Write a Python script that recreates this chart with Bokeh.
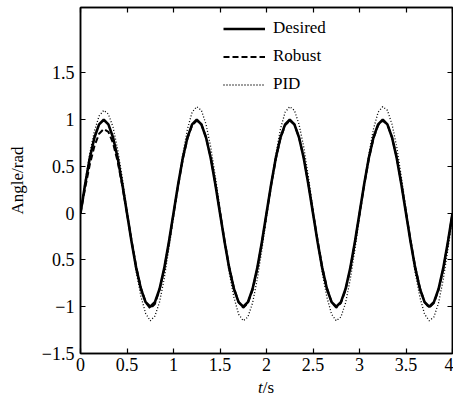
from bokeh.plotting import figure
from bokeh.models import Range1d, LinearAxis, FixedTicker, Legend, LegendItem, Div
from bokeh.layouts import column
from bokeh.embed import file_html
from bokeh.resources import INLINE

t = [0.00, 0.05, 0.10, 0.15, 0.20, 0.25, 0.30, 0.35, 0.40, 0.45,
     0.50, 0.55, 0.60, 0.65, 0.70, 0.75, 0.80, 0.85, 0.90, 0.95,
     1.00, 1.05, 1.10, 1.15, 1.20, 1.25, 1.30, 1.35, 1.40, 1.45,
     1.50, 1.55, 1.60, 1.65, 1.70, 1.75, 1.80, 1.85, 1.90, 1.95,
     2.00, 2.05, 2.10, 2.15, 2.20, 2.25, 2.30, 2.35, 2.40, 2.45,
     2.50, 2.55, 2.60, 2.65, 2.70, 2.75, 2.80, 2.85, 2.90, 2.95,
     3.00, 3.05, 3.10, 3.15, 3.20, 3.25, 3.30, 3.35, 3.40, 3.45,
     3.50, 3.55, 3.60, 3.65, 3.70, 3.75, 3.80, 3.85, 3.90, 3.95,
     4.00]

desired = [0.00, 0.31, 0.59, 0.81, 0.95, 1.00, 0.95, 0.81, 0.59, 0.31,
           0.00, -0.31, -0.59, -0.81, -0.95, -1.00, -0.95, -0.81, -0.59, -0.31,
           0.00, 0.31, 0.59, 0.81, 0.95, 1.00, 0.95, 0.81, 0.59, 0.31,
           0.00, -0.31, -0.59, -0.81, -0.95, -1.00, -0.95, -0.81, -0.59, -0.31,
           0.00, 0.31, 0.59, 0.81, 0.95, 1.00, 0.95, 0.81, 0.59, 0.31,
           0.00, -0.31, -0.59, -0.81, -0.95, -1.00, -0.95, -0.81, -0.59, -0.31,
           0.00, 0.31, 0.59, 0.81, 0.95, 1.00, 0.95, 0.81, 0.59, 0.31,
           0.00, -0.31, -0.59, -0.81, -0.95, -1.00, -0.95, -0.81, -0.59, -0.31,
           0.00]

robust = [0.00, 0.27, 0.52, 0.72, 0.85, 0.90, 0.87, 0.75, 0.55, 0.29,
          0.00, -0.30, -0.58, -0.80, -0.95, -1.02, -0.97, -0.82, -0.60, -0.32,
          -0.01, 0.30, 0.58, 0.80, 0.94, 0.99, 0.95, 0.81, 0.60, 0.32,
          0.01, -0.30, -0.58, -0.80, -0.95, -1.01, -0.96, -0.82, -0.60, -0.32,
          -0.01, 0.30, 0.58, 0.80, 0.94, 0.99, 0.95, 0.81, 0.60, 0.32,
          0.01, -0.30, -0.58, -0.80, -0.95, -1.01, -0.96, -0.82, -0.60, -0.32,
          -0.01, 0.30, 0.58, 0.80, 0.94, 0.99, 0.95, 0.81, 0.60, 0.32,
          0.01, -0.30, -0.58, -0.80, -0.95, -1.01, -0.96, -0.82, -0.60, -0.32,
          0.00]

pid = [0.00, 0.34, 0.64, 0.88, 1.04, 1.10, 1.06, 0.92, 0.68, 0.37,
       0.03, -0.31, -0.63, -0.89, -1.07, -1.15, -1.10, -0.95, -0.70, -0.38,
       -0.04, 0.31, 0.63, 0.90, 1.08, 1.14, 1.10, 0.95, 0.71, 0.39,
       0.04, -0.31, -0.64, -0.90, -1.08, -1.15, -1.11, -0.96, -0.71, -0.39,
       -0.04, 0.31, 0.63, 0.90, 1.08, 1.14, 1.10, 0.95, 0.71, 0.39,
       0.04, -0.31, -0.64, -0.90, -1.08, -1.15, -1.11, -0.96, -0.71, -0.39,
       -0.04, 0.31, 0.63, 0.90, 1.08, 1.14, 1.10, 0.95, 0.71, 0.39,
       0.04, -0.31, -0.64, -0.90, -1.08, -1.15, -1.11, -0.96, -0.71, -0.39,
       -0.04]

x_ticks = [0, 0.5, 1, 1.5, 2, 2.5, 3, 3.5, 4]
x_tick_labels = ["0", "0.5", "1", "1.5", "2", "2.5", "3", "3.5", "4"]
y_ticks = [-1.5, -1, -0.5, 0, 0.5, 1, 1.5]
y_tick_labels = ["\u22121.5", "\u22121", "0.5", "0", "0.5", "1", "1.5"]

FONT = "Liberation Serif"
FS = "18px"

p = figure(width=453, height=378, x_range=Range1d(0, 4), y_range=Range1d(-1.5, 2.2),
           output_backend="svg", toolbar_location=None,
           min_border_left=80, min_border_right=1, min_border_top=7, min_border_bottom=25)
p.grid.visible = False
p.outline_line_color = "black"
p.outline_line_width = 1.5
p.background_fill_color = "white"
p.border_fill_color = "white"

r_des = p.line(t, desired, line_color="black", line_width=2.6)
r_rob = p.line(t, robust, line_color="black", line_width=2.0, line_dash="6 3")
r_pid = p.line(t, pid, line_color="black", line_width=1.3, line_dash="1 2")

def style(ax, ticks, labels, show):
    ax.ticker = FixedTicker(ticks=ticks)
    ax.major_label_overrides = {k: (v if show else "") for k, v in zip(ticks, labels)}
    ax.major_tick_in = 5
    ax.major_tick_out = 0
    ax.minor_tick_in = 0
    ax.minor_tick_out = 0
    ax.axis_line_color = "black"
    ax.axis_line_width = 1.5
    ax.major_tick_line_color = "black"
    ax.major_tick_line_width = 1.2
    ax.major_label_text_font = FONT
    ax.major_label_text_font_size = FS
    ax.major_label_text_color = "black"
    if not show:
        ax.major_label_standoff = 0

xa = p.xaxis[0]
style(xa, x_ticks, x_tick_labels, True)
xa.major_label_standoff = 4
ya = p.yaxis[0]
style(ya, y_ticks, y_tick_labels, True)
ya.major_label_standoff = 6
ya.axis_label = "Angle/rad"
ya.axis_label_text_font = FONT
ya.axis_label_text_font_size = "17px"
ya.axis_label_text_font_style = "normal"
ya.axis_label_text_color = "black"
ya.axis_label_standoff = 12

top = LinearAxis()
style(top, x_ticks, x_tick_labels, False)
p.add_layout(top, "above")
right = LinearAxis()
style(right, y_ticks, y_tick_labels, False)
p.add_layout(right, "right")

legend = Legend(items=[LegendItem(label="Desired", renderers=[r_des]),
                       LegendItem(label="Robust", renderers=[r_rob]),
                       LegendItem(label="PID", renderers=[r_pid])],
                location=(143, 259), border_line_color=None, background_fill_alpha=0,
                padding=0, margin=0, spacing=8, glyph_width=42, glyph_height=17,
                label_height=17, label_standoff=8, label_text_font=FONT,
                label_text_font_size="17px", label_text_color="black")
p.add_layout(legend)

xlabel = Div(text="<i>t</i>/s", width=40, height=22, margin=(0, 0, 0, 258),
             styles={"font-family": FONT, "font-size": "17px", "color": "black",
                     "line-height": "20px"})

layout = column(p, xlabel, spacing=0)
open("out.html", "w").write(file_html(layout, INLINE))
